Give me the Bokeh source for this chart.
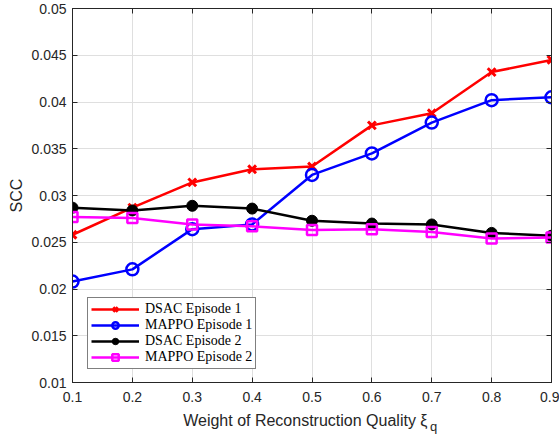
from bokeh.plotting import figure
from bokeh.models import LinearAxis, Legend, LegendItem, FixedTicker, Range1d
from bokeh.embed import file_html
from bokeh.resources import INLINE

x = [0.1, 0.2, 0.3, 0.4, 0.5, 0.6, 0.7, 0.8, 0.9]
dsac_ep1 = [0.0258, 0.0287, 0.0314, 0.0328, 0.0331, 0.0375, 0.0388, 0.0432, 0.0445]
mappo_ep1 = [0.0208, 0.0221, 0.0264, 0.0269, 0.0322, 0.0345, 0.0378, 0.0402, 0.0405]
dsac_ep2 = [0.0287, 0.0284, 0.0289, 0.0286, 0.0273, 0.0270, 0.0269, 0.0260, 0.0257]
mappo_ep2 = [0.0277, 0.0276, 0.0269, 0.0267, 0.0263, 0.0264, 0.0261, 0.0254, 0.0255]
x_ticks = [0.1, 0.2, 0.3, 0.4, 0.5, 0.6, 0.7, 0.8, 0.9]
y_ticks = [0.01, 0.015, 0.02, 0.025, 0.03, 0.035, 0.04, 0.045, 0.05]
labels = ["DSAC Episode 1", "MAPPO Episode 1", "DSAC Episode 2", "MAPPO Episode 2"]
x_label = "Weight of Reconstruction Quality \u03be"
x_label_sub = "q"
y_label = "SCC"

TXT = "#262626"
FONT = "Liberation Sans"

p = figure(width=559, height=438, output_backend="svg", toolbar_location=None,
           x_range=Range1d(0.1, 0.9), y_range=Range1d(0.01, 0.05),
           min_border_left=72, min_border_right=8, min_border_top=8, min_border_bottom=56)
p.background_fill_color = "white"
p.border_fill_color = "white"
p.outline_line_color = TXT
p.outline_line_width = 1

for ax in (p.xaxis[0], p.yaxis[0]):
    ax.major_tick_in = 5
    ax.major_tick_out = 0
    ax.minor_tick_in = 0
    ax.minor_tick_out = 0
    ax.axis_line_color = TXT
    ax.major_tick_line_color = TXT
    ax.major_label_text_color = TXT
    ax.major_label_text_font = FONT
    ax.major_label_text_font_size = "14px"
    ax.axis_label_text_font = FONT
    ax.axis_label_text_font_size = "16px"
    ax.axis_label_text_font_style = "normal"
    ax.axis_label_text_color = TXT

p.xaxis[0].ticker = FixedTicker(ticks=x_ticks)
p.yaxis[0].ticker = FixedTicker(ticks=y_ticks)
p.xaxis[0].major_label_overrides = {t: f"{t:g}" for t in x_ticks}
p.yaxis[0].major_label_overrides = {t: f"{t:g}" for t in y_ticks}
p.yaxis[0].axis_label = y_label
p.xaxis[0].major_label_standoff = 9
p.yaxis[0].major_label_standoff = 6
p.yaxis[0].axis_label_standoff = 3

# second (label-only) axis below: carries the x label and the subscript "q"
q_pos = 0.7031
lab_ax = LinearAxis(ticker=FixedTicker(ticks=[q_pos]),
                    major_label_overrides={q_pos: x_label_sub},
                    axis_label=x_label + "\u00a0\u00a0\u00a0")
lab_ax.axis_line_alpha = 0
lab_ax.major_tick_line_alpha = 0
lab_ax.major_tick_in = 0
lab_ax.major_tick_out = 0
lab_ax.minor_tick_in = 0
lab_ax.minor_tick_out = 0
lab_ax.major_label_text_font = FONT
lab_ax.major_label_text_font_size = "13px"
lab_ax.major_label_text_color = TXT
lab_ax.major_label_standoff = 14
lab_ax.axis_label_text_font = FONT
lab_ax.axis_label_text_font_size = "16px"
lab_ax.axis_label_text_font_style = "normal"
lab_ax.axis_label_text_color = TXT
lab_ax.axis_label_standoff = -25
p.add_layout(lab_ax, "below")

for loc in ("above", "right"):
    ax = LinearAxis(ticker=FixedTicker(ticks=x_ticks if loc == "above" else y_ticks))
    ax.major_tick_in = 5
    ax.major_tick_out = 0
    ax.minor_tick_in = 0
    ax.minor_tick_out = 0
    ax.axis_line_color = TXT
    ax.major_tick_line_color = TXT
    ax.major_label_text_font_size = "0px"
    ax.major_label_standoff = 0
    p.add_layout(ax, loc)

p.grid.grid_line_color = "#dfdfdf"
p.grid.grid_line_width = 1
p.xgrid.ticker = FixedTicker(ticks=x_ticks)
p.ygrid.ticker = FixedTicker(ticks=y_ticks)

items = []
l1 = p.line(x, dsac_ep1, line_color="red", line_width=2.5)
s1 = p.scatter(x, dsac_ep1, marker="x", size=11, line_color="red", line_width=3)
items.append(LegendItem(label=labels[0], renderers=[l1, s1]))

l2 = p.line(x, mappo_ep1, line_color="blue", line_width=2.5)
s2 = p.scatter(x, mappo_ep1, marker="circle", size=12, line_color="blue", fill_color=None, line_width=2.5)
items.append(LegendItem(label=labels[1], renderers=[l2, s2]))

l3 = p.line(x, dsac_ep2, line_color="black", line_width=2.5)
s3 = p.scatter(x, dsac_ep2, marker="circle", size=11, line_color="black", fill_color="black", line_width=1)
items.append(LegendItem(label=labels[2], renderers=[l3, s3]))

l4 = p.line(x, mappo_ep2, line_color="magenta", line_width=2.5)
s4 = p.scatter(x, mappo_ep2, marker="square", size=10, line_color="magenta", fill_color=None, line_width=2.5)
items.append(LegendItem(label=labels[3], renderers=[l4, s4]))

legend = Legend(items=items, location=(15, 13))
legend.label_text_font = "Liberation Serif"
legend.label_text_font_size = "14px"
legend.label_text_color = "black"
legend.label_height = 16
legend.glyph_height = 16
legend.glyph_width = 48
legend.spacing = 0
legend.padding = 3
legend.margin = 0
legend.label_standoff = 6
legend.border_line_color = "black"
legend.border_line_width = 1
legend.background_fill_alpha = 1
p.add_layout(legend)

open("out.html", "w").write(file_html(p, INLINE))
